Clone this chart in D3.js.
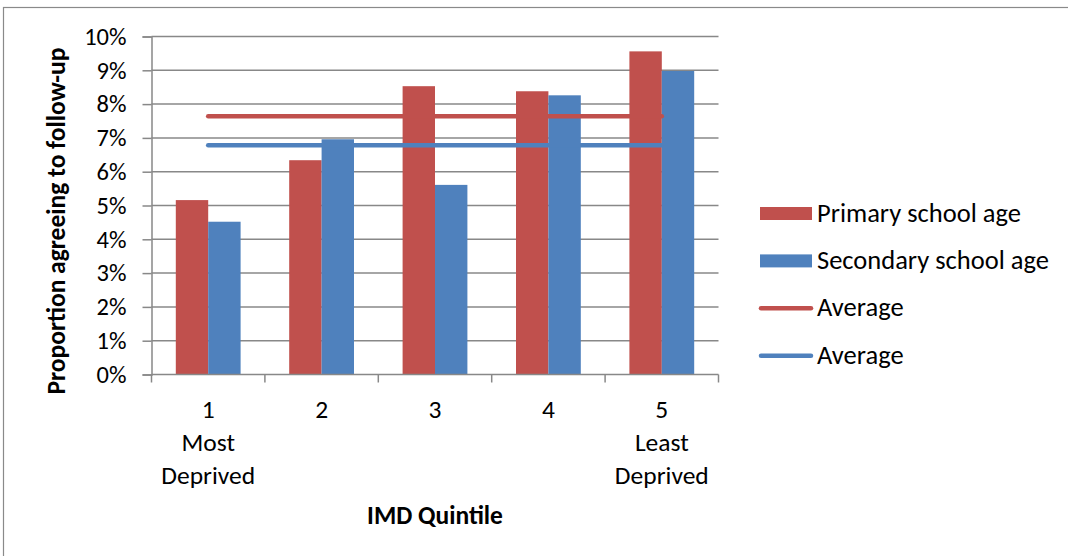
<!DOCTYPE html>
<html>
<head>
<meta charset="utf-8">
<script src="https://cdn.jsdelivr.net/npm/d3@7"></script>
<style>
  html, body { margin: 0; padding: 0; background: #fff; }
  svg { display: block; }
  text { font-family: Carlito, Calibri, Lato, "Noto Sans", sans-serif; fill: #000; }
</style>
</head>
<body>
<svg id="chart" width="1068" height="556"></svg>
<script>
// ---- data ----
const categories = ["1", "2", "3", "4", "5"];
const categorySubLabels = [["Most", "Deprived"], [], [], [], ["Least", "Deprived"]];
const seriesNames = ["Primary school age", "Secondary school age"];
const primaryValues = [0.0516, 0.0634, 0.0853, 0.0838, 0.0956];
const secondaryValues = [0.0452, 0.0696, 0.0561, 0.0826, 0.0898];
const averagePrimary = [0.0764, 0.0764, 0.0764, 0.0764, 0.0764];
const averageSecondary = [0.0678, 0.0678, 0.0678, 0.0678, 0.0678];
const yTickValues = [0, 0.01, 0.02, 0.03, 0.04, 0.05, 0.06, 0.07, 0.08, 0.09, 0.10];
const legendLabels = ["Primary school age", "Secondary school age", "Average", "Average"];
const xTitle = "IMD Quintile";
const yTitle = "Proportion agreeing to follow-up";

// ---- styles ----
const RED = "#C0504D", BLUE = "#4F81BD", GRID = "#888888";
const FAMILY = "Carlito, Calibri, Lato, sans-serif";

const svg = d3.select("#chart");
svg.append("rect").attr("x", 3.5).attr("y", 7.5).attr("width", 1080).attr("height", 560)
  .attr("fill", "#fff").attr("stroke", "#8a8a8a").attr("stroke-width", 1.2);

const pLeft = 151.5, pRight = 718.5, pTop = 36.5, pBottom = 374.5;
const x = d3.scaleBand().domain(categories).range([pLeft, pRight]).paddingInner(0).paddingOuter(0);
const xs = d3.scaleBand().domain(seriesNames).range([0, x.bandwidth()]).paddingInner(0).paddingOuter(0.75);
const y = d3.scaleLinear().domain([0, 0.10]).range([pBottom, pTop]);

// gridlines
svg.append("g").selectAll("line").data(yTickValues.slice(1)).join("line")
  .attr("x1", pLeft).attr("x2", pRight)
  .attr("y1", d => y(d)).attr("y2", d => y(d))
  .attr("stroke", GRID).attr("stroke-width", 1.5);

// bars
const groups = svg.append("g").selectAll("g").data(categories).join("g")
  .attr("transform", d => `translate(${x(d)},0)`);
groups.append("rect")
  .attr("x", xs(seriesNames[0])).attr("width", xs.bandwidth())
  .attr("y", (d, i) => y(primaryValues[i])).attr("height", (d, i) => y(0) - y(primaryValues[i]))
  .attr("fill", RED);
groups.append("rect")
  .attr("x", xs(seriesNames[1])).attr("width", xs.bandwidth())
  .attr("y", (d, i) => y(secondaryValues[i])).attr("height", (d, i) => y(0) - y(secondaryValues[i]))
  .attr("fill", BLUE);

// y axis
const yAxis = d3.axisLeft(y).tickValues(yTickValues).tickFormat(d3.format(".0%")).tickSize(9).tickPadding(16);
const yg = svg.append("g").attr("transform", `translate(${pLeft},0)`).call(yAxis);
yg.select(".domain").attr("stroke", GRID).attr("stroke-width", 1.5);
yg.selectAll(".tick line").attr("stroke", GRID).attr("stroke-width", 1.5);
yg.selectAll(".tick text").style("font-size", "24.5px").attr("fill", "#000")
  .style("font-family", FAMILY);

// x axis: boundary ticks
svg.append("line").attr("x1", pLeft).attr("x2", pRight).attr("y1", pBottom).attr("y2", pBottom)
  .attr("stroke", GRID).attr("stroke-width", 1.5);
const boundaries = categories.map(c => x(c)).concat([x(categories[categories.length - 1]) + x.bandwidth()]);
svg.append("g").selectAll("line").data(boundaries).join("line")
  .attr("x1", d => d).attr("x2", d => d).attr("y1", pBottom).attr("y2", pBottom + 8)
  .attr("stroke", GRID).attr("stroke-width", 1.5);

// x labels
const xAxis = d3.axisBottom(x).tickSize(0).tickPadding(0);
const xg = svg.append("g").attr("transform", `translate(0,${pBottom})`).call(xAxis);
xg.select(".domain").remove();
xg.selectAll(".tick text").each(function (d, i) {
  const t = d3.select(this);
  t.text(null).attr("y", 0).attr("dy", null)
    .style("font-size", "25.5px").style("font-family", FAMILY)
    .attr("fill", "#000");
  const lines = [d].concat(categorySubLabels[i]);
  lines.forEach((ln, k) => {
    t.append("tspan").attr("x", 0).attr("y", 43 + k * 33).text(ln);
  });
});

// average lines
const line = d3.line().x((d, i) => x(categories[i]) + x.bandwidth() / 2).y(d => y(d));
svg.append("path").datum(averagePrimary).attr("d", line)
  .attr("fill", "none").attr("stroke", RED).attr("stroke-width", 4.5).attr("stroke-linecap", "round");
svg.append("path").datum(averageSecondary).attr("d", line)
  .attr("fill", "none").attr("stroke", BLUE).attr("stroke-width", 4.5).attr("stroke-linecap", "round");

// titles
svg.append("text").attr("x", (pLeft + pRight) / 2).attr("y", 524).attr("text-anchor", "middle")
  .style("font-size", "25.5px").style("font-weight", "bold").text(xTitle);
svg.append("text").attr("transform", "translate(65,221) rotate(-90)").attr("text-anchor", "middle")
  .style("font-size", "25.5px").style("font-weight", "bold").text(yTitle);

// legend
const legendColors = [RED, BLUE, RED, BLUE];
const legendTypes = ["rect", "rect", "line", "line"];
const lg = svg.append("g").selectAll("g").data(legendLabels).join("g")
  .attr("transform", (d, i) => `translate(760,${213.5 + i * 47.4})`);
lg.each(function (d, i) {
  const g = d3.select(this);
  if (legendTypes[i] === "rect") {
    g.append("rect").attr("x", 0).attr("y", -6.5).attr("width", 52).attr("height", 13).attr("fill", legendColors[i]);
  } else {
    g.append("line").attr("x1", 1).attr("x2", 51).attr("y1", 0).attr("y2", 0)
      .attr("stroke", legendColors[i]).attr("stroke-width", 4.5).attr("stroke-linecap", "round");
  }
  g.append("text").attr("x", 57).attr("y", 8).style("font-size", "26.5px").text(d);
});
</script>
</body>
</html>
